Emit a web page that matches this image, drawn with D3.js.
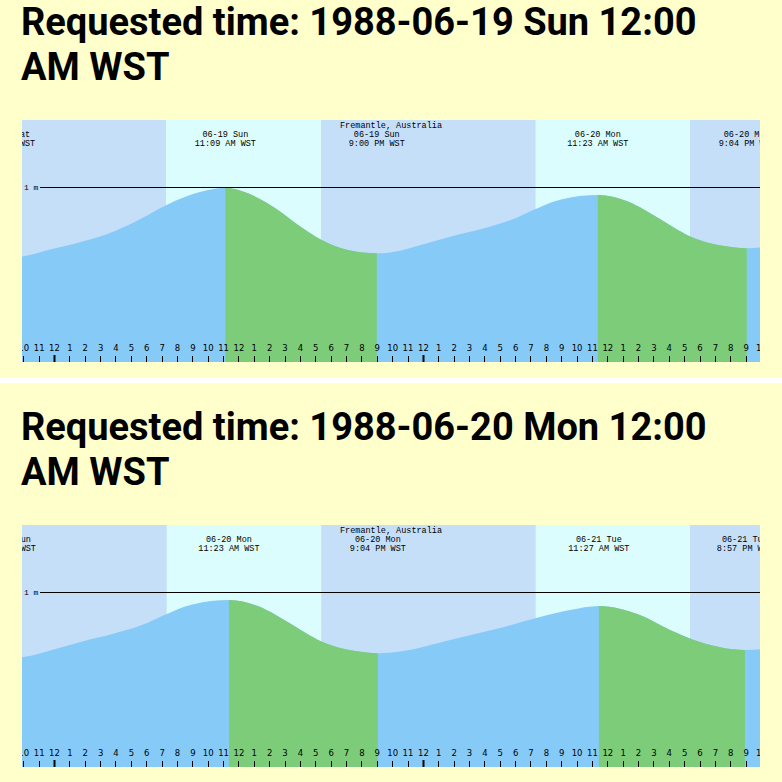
<!DOCTYPE html>
<html>
<head>
<meta charset="utf-8">
<script src="https://cdn.jsdelivr.net/npm/d3@7"></script>
<style>
  html, body { margin: 0; padding: 0; background: #ffffcc; }
  svg { display: block; }
</style>
</head>
<body>
<svg id="chart" width="782" height="782"></svg>
<script>
// ---------------- data ----------------
// hours are measured from 1988-06-19 00:00 WST
const stationName = "Fremantle, Australia";
const panelTitles = ["Requested time: 1988-06-19 Sun 12:00", "Requested time: 1988-06-20 Mon 12:00"];
const panelTitleTail = ["AM WST", "AM WST"];
const panelStartHours = [0, 24];

const tideHours = [-4.0, -3.05, -2.10, -0.39, 1.80, 3.97, 5.71, 7.22, 8.72, 10.02, 11.15, 12.62, 14.38, 15.88, 17.42, 19.13, 21.00,
  22.5, 23.4, 25.6, 27.97, 29.71, 31.1, 33.0, 35.4, 37.3, 38.4, 39.4, 40.4, 41.4, 42.5, 43.6, 45.07,
  46.5, 49.77, 53.02, 55.62, 57.57, 59.45, 60.8, 62.12, 64.08, 66.03, 67.5, 68.95, 71.0];
const tideHeights = [0.600, 0.595, 0.602, 0.640, 0.687, 0.749, 0.821, 0.893, 0.950, 0.983, 0.996, 0.964, 0.880, 0.783, 0.697, 0.640, 0.621,
  0.636, 0.657, 0.712, 0.764, 0.811, 0.866, 0.929, 0.954, 0.918, 0.870, 0.818, 0.764, 0.717, 0.683, 0.663, 0.650,
  0.660, 0.726, 0.794, 0.857, 0.897, 0.920, 0.905, 0.869, 0.783, 0.714, 0.682, 0.669, 0.680];

const eventHours = [-3.05, 11.15, 21.00, 35.38, 45.07, 59.45, 68.95];
const eventKinds = ["low", "high", "low", "high", "low", "high", "low"];
const eventDates = ["06-18 Sat", "06-19 Sun", "06-19 Sun", "06-20 Mon", "06-20 Mon", "06-21 Tue", "06-21 Tue"];
const eventClock = ["8:57 PM WST", "11:09 AM WST", "9:00 PM WST", "11:23 AM WST", "9:04 PM WST", "11:27 AM WST", "8:57 PM WST"];

const sunriseHours = [7.29, 31.33, 55.34];
const sunsetHours = [17.37, 41.38, 65.38];

const hourLabels = ["12", "1", "2", "3", "4", "5", "6", "7", "8", "9", "10", "11"];
const refLevels = [1];
const refLabels = ["1 m"];

// ---------------- layout ----------------
const W = 782;
const panelOffset = 405;
const cLeft = 22, cRight = 760, cTop = 120, cBottom = 362;
const pxPerHour = 15.37;
const midnightX = 54;
const colors = {
  night: "#c6dff8",
  day: "#dcfdfd",
  flood: "#86cbf8",
  ebb: "#7ccc79",
  sep: "#ffffff"
};

const svg = d3.select("#chart");
svg.append("rect").attr("width", W).attr("height", 782).attr("fill", "#ffffcc");
svg.append("rect").attr("x", 0).attr("y", 378).attr("width", W).attr("height", 5).attr("fill", colors.sep);

const yScale = d3.scaleLinear().domain([0, 1]).range([cBottom, 187]);

panelStartHours.forEach((start, pi) => {
  const g = svg.append("g").attr("transform", `translate(0,${pi * panelOffset})`);

  // title
  const title = g.append("text")
    .attr("font-family", "Roboto, 'Noto Sans', sans-serif")
    .attr("font-weight", "bold")
    .attr("font-size", 38)
    .attr("fill", "#000");
  title.append("tspan").attr("x", 21).attr("y", 35).text(panelTitles[pi]);
  title.append("tspan").attr("x", 21).attr("y", 80).text(panelTitleTail[pi]);

  const xScale = d3.scaleLinear()
    .domain([start - (midnightX - cLeft) / pxPerHour, start + (cRight - midnightX) / pxPerHour])
    .range([cLeft, cRight]);

  const clipId = "clip" + pi;
  g.append("clipPath").attr("id", clipId)
    .append("rect").attr("x", cLeft).attr("y", cTop).attr("width", cRight - cLeft).attr("height", cBottom - cTop);

  const body = g.append("g").attr("clip-path", `url(#${clipId})`);

  // night background
  body.append("rect").attr("x", cLeft).attr("y", cTop).attr("width", cRight - cLeft).attr("height", cBottom - cTop)
    .attr("fill", colors.night);
  // daylight
  sunriseHours.forEach((sr, i) => {
    body.append("rect")
      .attr("x", xScale(sr)).attr("y", cTop)
      .attr("width", xScale(sunsetHours[i]) - xScale(sr)).attr("height", cBottom - cTop)
      .attr("fill", colors.day);
  });

  // tide area
  const pts = tideHours.map((h, i) => [h, tideHeights[i]]);
  const area = d3.area()
    .x(d => xScale(d[0])).y0(cBottom).y1(d => yScale(d[1]))
    .curve(d3.curveMonotoneX);

  body.append("path").datum(pts).attr("d", area).attr("fill", colors.flood);

  // ebb (falling) segments
  const ebbClipId = "ebb" + pi;
  const ebbClip = g.append("clipPath").attr("id", ebbClipId);
  eventHours.forEach((t, i) => {
    if (eventKinds[i] === "high" && i + 1 < eventHours.length) {
      ebbClip.append("rect")
        .attr("x", xScale(t)).attr("y", cTop)
        .attr("width", xScale(eventHours[i + 1]) - xScale(t)).attr("height", cBottom - cTop);
    }
  });
  body.append("g").attr("clip-path", `url(#${ebbClipId})`)
    .append("path").datum(pts).attr("d", area).attr("fill", colors.ebb);

  // reference level lines
  refLevels.forEach((lv, i) => {
    body.append("line")
      .attr("x1", 40).attr("x2", cRight)
      .attr("y1", yScale(lv) + 0.5).attr("y2", yScale(lv) + 0.5)
      .attr("stroke", "#000").attr("stroke-width", 1);
    body.append("text")
      .attr("x", 24).attr("y", yScale(lv) + 3)
      .attr("font-family", "'Liberation Mono', 'DejaVu Sans Mono', monospace")
      .attr("font-size", 8)
      .attr("fill", "#000")
      .text(refLabels[i]);
  });

  // station name
  body.append("text")
    .attr("x", (cLeft + cRight) / 2).attr("y", 127.5)
    .attr("text-anchor", "middle")
    .attr("font-family", "'Liberation Mono', 'DejaVu Sans Mono', monospace")
    .attr("font-size", 8.5)
    .attr("fill", "#000")
    .text(stationName);

  // event labels
  eventHours.forEach((t, i) => {
    const lab = body.append("text")
      .attr("text-anchor", "middle")
      .attr("font-family", "'Liberation Mono', 'DejaVu Sans Mono', monospace")
      .attr("font-size", 8.5)
      .attr("fill", "#000");
    lab.append("tspan").attr("x", xScale(t)).attr("y", 136.5).text(eventDates[i]);
    lab.append("tspan").attr("x", xScale(t)).attr("y", 145.5).text(eventClock[i]);
  });

  // hour axis
  const hours = d3.range(Math.ceil(xScale.domain()[0]), Math.floor(xScale.domain()[1]) + 2);
  const axis = d3.axisBottom(xScale)
    .tickValues(hours)
    .tickSize(0)
    .tickFormat(h => hourLabels[((h % 12) + 12) % 12]);
  const ax = body.append("g").attr("transform", `translate(0,${cBottom - 17})`).call(axis);
  ax.select(".domain").remove();
  ax.selectAll("text")
    .attr("font-family", "'DejaVu Sans', sans-serif")
    .attr("font-size", 8.5)
    .attr("fill", "#000")
    .attr("dy", 0).attr("y", 6);
  hours.forEach(h => {
    const isMidnight = ((h % 24) + 24) % 24 === 0;
    body.append("line")
      .attr("x1", Math.round(xScale(h)) + 0.5).attr("x2", Math.round(xScale(h)) + 0.5)
      .attr("y1", cBottom - (isMidnight ? 7 : 6)).attr("y2", cBottom)
      .attr("stroke", "#000")
      .attr("stroke-width", isMidnight ? 2 : 1);
  });
});
</script>
</body>
</html>
